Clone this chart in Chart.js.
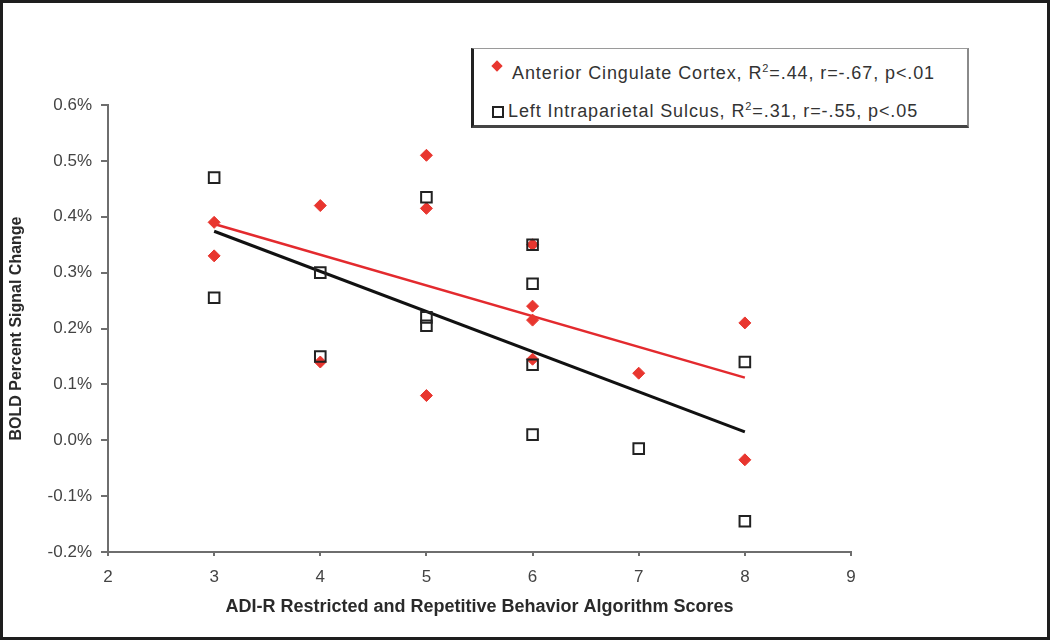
<!DOCTYPE html>
<html>
<head>
<meta charset="utf-8">
<script src="https://cdn.jsdelivr.net/npm/chart.js@4"></script>
<style>
    html, body { margin: 0; padding: 0; background: #fff; }
    #wrap { position: relative; width: 1050px; height: 640px; }
    #frame {
        position: absolute; left: 0; top: 0; width: 1050px; height: 640px;
        box-sizing: border-box; border: 3px solid #1e1e1e; pointer-events: none;
    }
    #legend {
        position: absolute; left: 471px; top: 48px; width: 498px; height: 80px;
        box-sizing: border-box; background: #fff;
        border-top: 1px solid #9a9a9a; border-right: 2px solid #8a8a8a;
        border-left: 3px solid #222; border-bottom: 3px solid #444;
        font-family: "Liberation Sans", Arial, sans-serif; font-size: 18px; color: #333;
        letter-spacing: 0.9px;
    }
    .row { position: absolute; left: 0; white-space: nowrap; }
    .row sup { font-size: 11px; }
    .diamond {
        position: absolute; width: 8px; height: 8px; background: #e8362f;
        transform: rotate(45deg);
    }
    .square {
        position: absolute; width: 12px; height: 12px; box-sizing: border-box;
        border: 2px solid #222;
    }
</style>
</head>
<body>
<div id="wrap">
    <canvas id="chart" width="1050" height="640"></canvas>
    <div id="legend">
        <span class="diamond" style="left: 19px; top: 13px;"></span>
        <div class="row" style="left: 38px; top: 13px;">Anterior Cingulate Cortex, R<sup>2</sup>=.44, r=-.67, p&lt;.01</div>
        <span class="square" style="left: 18px; top: 57px;"></span>
        <div class="row" style="left: 34px; top: 51px;">Left Intraparietal Sulcus, R<sup>2</sup>=.31, r=-.55, p&lt;.05</div>
    </div>
    <div id="frame"></div>
</div>
<script>
// ADI-R scores (x) and BOLD % signal change (y)
const accScores = [3, 3, 4, 4, 5, 5, 5, 6, 6, 6, 6, 7, 8, 8];
const accValues = [0.39, 0.33, 0.42, 0.14, 0.51, 0.415, 0.08, 0.35, 0.24, 0.215, 0.145, 0.12, 0.21, -0.035];

const ipsScores = [3, 3, 4, 4, 5, 5, 5, 6, 6, 6, 6, 7, 8, 8];
const ipsValues = [0.47, 0.255, 0.30, 0.15, 0.435, 0.22, 0.205, 0.35, 0.28, 0.135, 0.01, -0.015, 0.14, -0.145];

// regression line end points
const fitScores = [3, 8];
const accFit = [0.387, 0.112];
const ipsFit = [0.374, 0.015];

const yTicks = [-0.2, -0.1, 0.0, 0.1, 0.2, 0.3, 0.4, 0.5, 0.6];
const xTicks = [2, 3, 4, 5, 6, 7, 8, 9];

const red = '#e8362f';
const toPoints = (xs, ys) => xs.map((x, i) => ({ x: x, y: ys[i] }));

const tickFont = { family: 'Liberation Sans', size: 17 };

const ctx = document.getElementById('chart').getContext('2d');
const chart = new Chart(ctx, {
    type: 'scatter',
    data: {
        datasets: [
            {
                label: 'Anterior Cingulate Cortex',
                data: toPoints(accScores, accValues),
                pointStyle: 'rectRot',
                pointRadius: 6,
                backgroundColor: red,
                borderColor: red,
                borderWidth: 1,
                order: 2
            },
            {
                label: 'Left Intraparietal Sulcus',
                data: toPoints(ipsScores, ipsValues),
                pointStyle: 'rect',
                pointRadius: 7.5,
                backgroundColor: 'rgba(0,0,0,0)',
                borderColor: '#222',
                borderWidth: 2,
                order: 1
            },
            {
                type: 'line',
                data: toPoints(fitScores, accFit),
                borderColor: '#e32a2e',
                borderWidth: 2.5,
                pointRadius: 0,
                fill: false,
                order: 4
            },
            {
                type: 'line',
                data: toPoints(fitScores, ipsFit),
                borderColor: '#111',
                borderWidth: 3,
                pointRadius: 0,
                fill: false,
                order: 3
            }
        ]
    },
    options: {
        responsive: false,
        animation: false,
        layout: {
            padding: { left: 3, top: 105, right: 199, bottom: 19 }
        },
        plugins: {
            legend: { display: false },
            tooltip: { enabled: false }
        },
        scales: {
            x: {
                type: 'linear',
                min: 2,
                max: 9,
                afterBuildTicks: (scale) => {
                    scale.ticks = xTicks.map((v) => ({ value: v }));
                },
                afterFit: (scale) => { scale.height = 69; },
                border: { display: true, color: '#6e6e6e', width: 2 },
                grid: { drawOnChartArea: false, drawTicks: true, tickLength: 4, color: '#6e6e6e', lineWidth: 2 },
                ticks: { color: '#444', font: tickFont, padding: 11 },
                title: {
                    display: true,
                    text: 'ADI-R Restricted and Repetitive Behavior Algorithm Scores',
                    color: '#2a2a2a',
                    font: { family: 'Liberation Sans', size: 18, weight: 'bold' },
                    padding: { top: 4, bottom: 3 }
                }
            },
            y: {
                type: 'linear',
                min: -0.2,
                max: 0.6,
                afterBuildTicks: (scale) => {
                    scale.ticks = yTicks.map((v) => ({ value: v }));
                },
                afterFit: (scale) => { scale.width = 105; },
                border: { display: true, color: '#6e6e6e', width: 2 },
                grid: { drawOnChartArea: false, drawTicks: true, tickLength: 7, color: '#6e6e6e', lineWidth: 2 },
                ticks: {
                    color: '#444',
                    font: tickFont,
                    padding: 9,
                    callback: (v) => (Math.abs(v) < 1e-9 ? 0 : v).toFixed(1) + '%'
                },
                title: {
                    display: true,
                    text: 'BOLD Percent Signal Change',
                    color: '#2a2a2a',
                    font: { family: 'Liberation Sans', size: 16, weight: 'bold' },
                    padding: { top: 4, bottom: 4 }
                }
            }
        }
    }
});
</script>
</body>
</html>
